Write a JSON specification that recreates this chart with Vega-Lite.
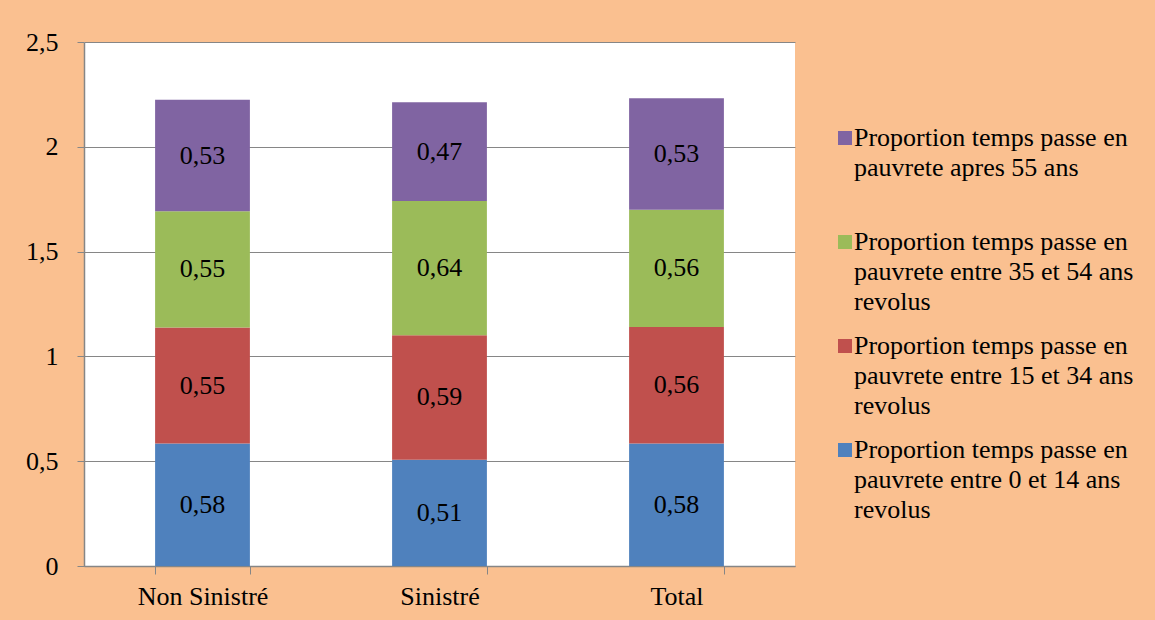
{
  "$schema": "https://vega.github.io/schema/vega-lite/v6.json",
  "width": 711,
  "height": 524,
  "autosize": "none",
  "padding": {"left": 84, "top": 42, "right": 360, "bottom": 54},
  "background": "#FAC090",
  "data": {
    "values": [
      {"cat": "Non Sinistré", "serie": "Proportion temps passe en pauvrete entre 0 et 14 ans revolus", "ord": 1, "value": 0.584},
      {"cat": "Non Sinistré", "serie": "Proportion temps passe en pauvrete entre 15 et 34 ans revolus", "ord": 2, "value": 0.554},
      {"cat": "Non Sinistré", "serie": "Proportion temps passe en pauvrete entre 35 et 54 ans revolus", "ord": 3, "value": 0.554},
      {"cat": "Non Sinistré", "serie": "Proportion temps passe en pauvrete apres 55 ans", "ord": 4, "value": 0.532},
      {"cat": "Sinistré", "serie": "Proportion temps passe en pauvrete entre 0 et 14 ans revolus", "ord": 1, "value": 0.507},
      {"cat": "Sinistré", "serie": "Proportion temps passe en pauvrete entre 15 et 34 ans revolus", "ord": 2, "value": 0.594},
      {"cat": "Sinistré", "serie": "Proportion temps passe en pauvrete entre 35 et 54 ans revolus", "ord": 3, "value": 0.64},
      {"cat": "Sinistré", "serie": "Proportion temps passe en pauvrete apres 55 ans", "ord": 4, "value": 0.472},
      {"cat": "Total", "serie": "Proportion temps passe en pauvrete entre 0 et 14 ans revolus", "ord": 1, "value": 0.584},
      {"cat": "Total", "serie": "Proportion temps passe en pauvrete entre 15 et 34 ans revolus", "ord": 2, "value": 0.556},
      {"cat": "Total", "serie": "Proportion temps passe en pauvrete entre 35 et 54 ans revolus", "ord": 3, "value": 0.56},
      {"cat": "Total", "serie": "Proportion temps passe en pauvrete apres 55 ans", "ord": 4, "value": 0.532}
    ]
  },
  "encoding": {
    "x": {
      "field": "cat", "type": "nominal", "sort": null,
      "scale": {"paddingInner": 0.6, "paddingOuter": 0.3},
      "axis": {
        "title": null, "labelAngle": 0, "tickBand": "extent", "tickSize": 8,
        "labelPadding": 9, "domainColor": "#868686", "tickColor": "#868686",
        "labelFontSize": 26, "grid": false
      }
    },
    "y": {
      "field": "value", "type": "quantitative", "stack": "zero",
      "scale": {"domain": [0, 2.5], "nice": false},
      "axis": {
        "title": null, "values": [0, 0.5, 1, 1.5, 2, 2.5], "format": ".1~f",
        "tickSize": 7, "labelPadding": 19, "labelFontSize": 26,
        "domainColor": "#868686", "tickColor": "#868686", "gridColor": "#868686", "grid": true
      }
    },
    "order": {"field": "ord", "type": "quantitative", "sort": "ascending"}
  },
  "layer": [
    {
      "mark": {"type": "bar"},
      "encoding": {
        "color": {
          "field": "serie", "type": "nominal",
          "scale": {
            "domain": [
              "Proportion temps passe en pauvrete apres 55 ans",
              "Proportion temps passe en pauvrete entre 35 et 54 ans revolus",
              "Proportion temps passe en pauvrete entre 15 et 34 ans revolus",
              "Proportion temps passe en pauvrete entre 0 et 14 ans revolus"
            ],
            "range": ["#8064A2", "#9BBB59", "#C0504D", "#4F81BD"]
          },
          "legend": {
            "title": null, "orient": "none", "legendX": 748, "legendY": 83,
            "symbolType": "square", "symbolSize": 196, "symbolStrokeWidth": 0,
            "labelFont": "Liberation Serif", "labelColor": "black",
            "labelFontSize": 26, "labelLimit": 400, "labelOffset": -4, "rowPadding": 18, "padding": 0,
            "labelExpr": "split(replace(replace(datum.label, ' pauvrete', '|pauvrete'), ' revolus', '|revolus') + (indexof(datum.label, 'revolus') < 0 ? '| ' : ''), '|')",
            "encode": {"labels": {"update": {"lineHeight": {"value": 30}}}}
          }
        }
      }
    },
    {
      "mark": {"type": "text", "fontSize": 26, "color": "black", "baseline": "middle", "font": "Liberation Serif"},
      "encoding": {
        "y": {"field": "value", "type": "quantitative", "stack": "zero", "bandPosition": 0.5},
        "text": {"field": "value", "type": "quantitative", "format": ".2f"}
      }
    }
  ],
  "config": {
    "locale": {"number": {"decimal": ",", "thousands": " ", "grouping": [3], "currency": ["", " €"]}},
    "font": "Liberation Serif",
    "view": {"stroke": null, "fill": "white"},
    "axis": {"labelColor": "black", "labelFont": "Liberation Serif", "gridWidth": 1, "domainWidth": 1.5},
    "legend": {"labelColor": "black", "labelFont": "Liberation Serif"},
    "style": {"guide-label": {"lineHeight": 30}}
  }
}
